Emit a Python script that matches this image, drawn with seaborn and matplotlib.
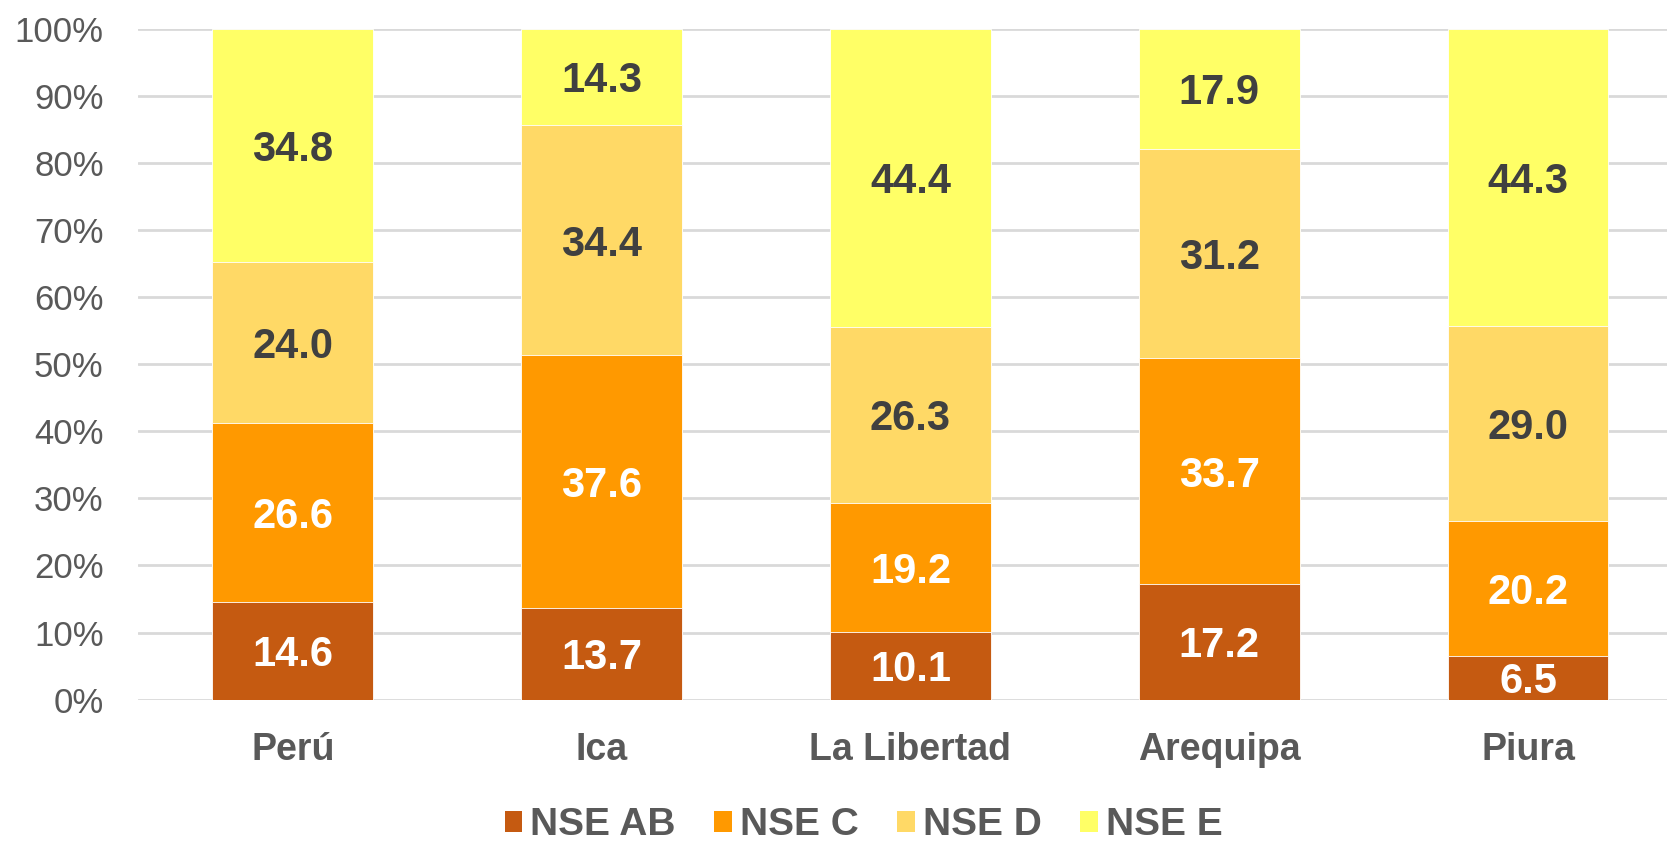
import matplotlib
matplotlib.use("Agg")
import matplotlib.pyplot as plt
from matplotlib.patches import Patch
from matplotlib.ticker import FuncFormatter
import seaborn as sns
import pandas as pd
import numpy as np

# Datos: participación (%) por nivel socioeconómico
regiones = ["Perú", "Ica", "La Libertad", "Arequipa", "Piura"]
nse_ab = [14.6, 13.7, 10.1, 17.2, 6.5]
nse_c = [26.6, 37.6, 19.2, 33.7, 20.2]
nse_d = [24.0, 34.4, 26.3, 31.2, 29.0]
nse_e = [34.8, 14.3, 44.4, 17.9, 44.3]

series = ["NSE AB", "NSE C", "NSE D", "NSE E"]
colores = ["#C55A11", "#FF9900", "#FFD966", "#FFFF66"]
color_texto = ["white", "white", "#404040", "#404040"]

df = pd.DataFrame({"region": regiones, "NSE AB": nse_ab, "NSE C": nse_c,
                   "NSE D": nse_d, "NSE E": nse_e})
acum = df[series].cumsum(axis=1)

sns.set_theme(style="white")
plt.rcParams["font.family"] = ["Liberation Sans", "DejaVu Sans"]

fig = plt.figure(figsize=(16.67, 8.44), dpi=100)
ax = fig.add_axes([0.083, 0.171, 0.917, 0.795])

# Apilado: se dibuja primero la suma total y encima las sumas parciales
for i in range(len(series) - 1, -1, -1):
    sns.barplot(x=df["region"], y=acum[series[i]], color=colores[i],
                width=0.52, saturation=1, edgecolor="white", linewidth=0.6,
                ax=ax, zorder=3)

# Etiquetas de valor en el centro de cada segmento
for i, s in enumerate(series):
    base = acum[s] - df[s]
    for j in range(len(regiones)):
        ax.text(j, base[j] + df[s][j] / 2, f"{df[s][j]:.1f}", ha="center",
                va="center_baseline", fontsize=30, fontweight="bold",
                color=color_texto[i], zorder=4)

ax.set_ylim(0, 100)
ax.set_xlim(-0.5, 4.45)
ax.set_yticks(np.arange(0, 101, 10))
ax.yaxis.set_major_formatter(FuncFormatter(lambda v, p: f"{v:.0f}%"))
ax.grid(axis="y", color="#D9D9D9", linewidth=2, zorder=0)
ax.set_axisbelow(True)
for lado in ["top", "right", "left", "bottom"]:
    ax.spines[lado].set_visible(False)
ax.set_xlabel("")
ax.set_ylabel("")
ax.tick_params(axis="y", labelsize=25, labelcolor="#595959", pad=25, length=0)
ax.tick_params(axis="x", labelsize=27, labelcolor="#595959", pad=23, length=0)
for t in ax.get_xticklabels():
    t.set_fontweight("bold")

handles = [Patch(facecolor=c, edgecolor="none") for c in colores]
fig.legend(handles, series, loc="center", bbox_to_anchor=(0.518, 0.022),
           ncol=4, frameon=False, prop={"size": 28, "weight": "bold"},
           labelcolor="#595959", handlelength=0.45, handleheight=0.45,
           handletextpad=0.2, columnspacing=1.0)

fig.savefig("out.png", dpi=100)
